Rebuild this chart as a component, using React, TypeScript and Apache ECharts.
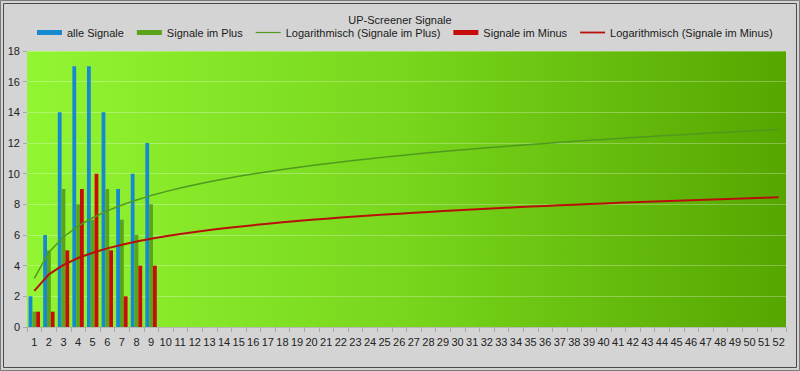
import React, { useEffect, useRef } from "react";
import * as echarts from "echarts";

const categories: string[] = Array.from({ length: 52 }, (_, i) => String(i + 1));
const alleSignale: number[] = [2, 6, 14, 17, 17, 14, 9, 10, 12];
const signaleImPlus: number[] = [1, 5, 9, 8, 7, 9, 7, 6, 8];
const signaleImMinus: number[] = [1, 1, 5, 9, 10, 5, 2, 4, 4];
const yTicks = { min: 0, max: 18, interval: 2 };

// Logarithmic trendline (least squares y = a*ln(x) + b) fitted on the data, as Excel does
function logTrend(values: number[], count: number): number[] {
  const n = values.length;
  const xs = values.map((_, i) => Math.log(i + 1));
  const mx = xs.reduce((s, v) => s + v, 0) / n;
  const my = values.reduce((s, v) => s + v, 0) / n;
  let sxy = 0;
  let sxx = 0;
  for (let i = 0; i < n; i++) {
    sxy += (xs[i] - mx) * (values[i] - my);
    sxx += (xs[i] - mx) * (xs[i] - mx);
  }
  const a = sxy / sxx;
  const b = my - a * mx;
  return Array.from({ length: count }, (_, i) => +(a * Math.log(i + 1) + b).toFixed(3));
}

const lineIconThin = "path://M0,0 M0,1.9 L25,1.9 L25,3.1 L0,3.1 Z M25,5";
const lineIconThick = "path://M0,0 M0,1.6 L25,1.6 L25,3.4 L0,3.4 Z M25,5";

export default function App() {
  const ref = useRef<HTMLDivElement>(null);
  useEffect(() => {
    if (!ref.current) return;
    const chart = echarts.init(ref.current, null, { renderer: "svg" });
    const font = "Liberation Sans, Arial, sans-serif";
    const trendPlus = logTrend(signaleImPlus, categories.length);
    const trendMinus = logTrend(signaleImMinus, categories.length);
    chart.setOption({
      animation: false,
      backgroundColor: "#d4d4d4",
      textStyle: { fontFamily: font },
      graphic: [
        {
          type: "rect",
          shape: { x: 0.5, y: 0.5, width: 799, height: 370 },
          style: { fill: "none", stroke: "#7a7a7a", lineWidth: 1 },
          silent: true,
        },
        {
          type: "rect",
          shape: { x: 3.5, y: 3.5, width: 793, height: 364 },
          style: { fill: "none", stroke: "#4a4a4a", lineWidth: 1 },
          silent: true,
        },
      ],
      title: {
        text: "UP-Screener Signale",
        left: "center",
        top: 9,
        textStyle: { fontSize: 11, fontWeight: "normal", color: "#1a1a1a", fontFamily: font },
      },
      legend: {
        left: 37,
        top: 27,
        padding: 0,
        itemGap: 13,
        itemWidth: 25,
        itemHeight: 5,
        textStyle: { fontSize: 11, color: "#1a1a1a", fontFamily: font },
        data: [
          { name: "alle Signale", icon: "rect" },
          { name: "Signale im Plus", icon: "rect" },
          { name: "Logarithmisch (Signale im Plus)", icon: lineIconThin },
          { name: "Signale im Minus", icon: "rect" },
          { name: "Logarithmisch (Signale im Minus)", icon: lineIconThick },
        ],
      },
      grid: {
        left: 27,
        right: 14,
        top: 51,
        bottom: 44,
        show: true,
        borderWidth: 0,
        backgroundColor: new echarts.graphic.LinearGradient(0, 0, 1, 0, [
          { offset: 0, color: "#92f532" },
          { offset: 0.5, color: "#78d61c" },
          { offset: 1, color: "#56a600" },
        ]),
      },
      xAxis: {
        type: "category",
        data: categories,
        axisLine: { show: true, lineStyle: { color: "#b8b8b8" } },
        axisTick: { show: true, length: 5, lineStyle: { color: "#a8a8a8" } },
        axisLabel: { interval: 0, fontSize: 11, color: "#222", margin: 9, fontFamily: font },
      },
      yAxis: {
        type: "value",
        min: yTicks.min,
        max: yTicks.max,
        interval: yTicks.interval,
        axisLine: { show: false },
        axisTick: { show: true, length: 4, lineStyle: { color: "#a8a8a8" } },
        axisLabel: { fontSize: 11, color: "#222", margin: 7, fontFamily: font },
        splitLine: { show: true, lineStyle: { color: "rgba(255,255,255,0.28)", width: 1 } },
      },
      series: [
        {
          name: "alle Signale",
          type: "bar",
          data: alleSignale,
          barWidth: 3.8,
          barGap: "0%",
          itemStyle: { color: "#1689d0" },
        },
        {
          name: "Signale im Plus",
          type: "bar",
          data: signaleImPlus,
          barWidth: 3.8,
          barGap: "0%",
          itemStyle: { color: "#5aa31a" },
        },
        {
          name: "Logarithmisch (Signale im Plus)",
          type: "line",
          data: trendPlus,
          symbol: "none",
          smooth: false,
          z: 5,
          lineStyle: { color: "#4f9a1e", width: 1.5 },
          itemStyle: { color: "#4f9a1e" },
        },
        {
          name: "Signale im Minus",
          type: "bar",
          data: signaleImMinus,
          barWidth: 3.8,
          barGap: "0%",
          itemStyle: { color: "#c80c0c" },
        },
        {
          name: "Logarithmisch (Signale im Minus)",
          type: "line",
          data: trendMinus,
          symbol: "none",
          smooth: false,
          z: 5,
          lineStyle: { color: "#b81008", width: 2 },
          itemStyle: { color: "#b81008" },
        },
      ],
    });
    return () => chart.dispose();
  }, []);
  return (
    <div
      ref={ref}
      style={{ position: "fixed", left: 0, top: 0, width: 800, height: 371 }}
    />
  );
}
